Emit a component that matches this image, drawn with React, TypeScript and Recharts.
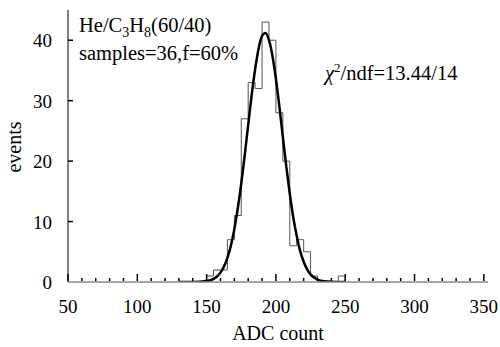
import React from 'react';
import { ComposedChart, Line, XAxis, YAxis } from 'recharts';

// Histogram (bin width 5 ADC counts)
const binStarts = [150, 155, 160, 165, 170, 175, 180, 185, 190, 195, 200, 205, 210, 215, 220, 225, 230, 235, 240, 245];
const binCounts = [1, 2, 2, 7, 11, 27, 33, 32, 43, 40, 28, 20, 6, 7, 5, 1, 0, 0, 0, 1];
const binWidth = 5;

// Gaussian fit curve
const fitX = [130, 135, 140, 145, 150, 155, 157.5, 160, 162.5, 165, 167.5, 170, 172.5, 175, 177.5, 180, 182.5, 185, 187.5, 190, 192.5, 195, 197.5, 200, 202.5, 205, 207.5, 210, 212.5, 215, 217.5, 220, 222.5, 225, 227.5, 230, 235, 240, 245, 250];
const fitY = [0, 0, 0.01, 0.04, 0.15, 0.52, 0.91, 1.55, 2.54, 4.0, 6.0, 8.75, 12.2, 16.3, 21.0, 26.0, 30.9, 35.2, 38.6, 40.7, 41.2, 40.0, 37.4, 33.6, 29.0, 24.0, 19.1, 14.6, 10.7, 7.6, 5.1, 3.35, 2.1, 1.26, 0.73, 0.41, 0.11, 0.03, 0.01, 0];

const xTicks = [50, 60, 70, 80, 90, 100, 110, 120, 130, 140, 150, 160, 170, 180, 190, 200, 210, 220, 230, 240, 250, 260, 270, 280, 290, 300, 310, 320, 330, 340, 350];
const xMajorStep = 50;
const yTicks = [0, 10, 20, 30, 40];
const xDomain: [number, number] = [50, 353];
const yDomain: [number, number] = [0, 45];

const FONT = "'Liberation Serif', 'Times New Roman', Times, serif";
const T: React.CSSProperties = { fontFamily: FONT };

const histData = [
  { x: binStarts[0], y: 0 },
  ...binStarts.map((s, i) => ({ x: s, y: binCounts[i] })),
  { x: binStarts[binStarts.length - 1] + binWidth, y: 0 },
];
const fitData = fitX.map((x, i) => ({ x, y: fitY[i] }));

const XTick = (props: any) => {
  const { x, y, payload } = props;
  const major = payload.value % xMajorStep === 0;
  return (
    <g>
      <line x1={x} x2={x} y1={y - 1} y2={y - (major ? 8 : 4)} stroke="#000" strokeWidth={1.5} />
      {major && (
        <text x={x} y={y + 31} textAnchor="middle" style={T} fontSize={19} fill="#000">
          {payload.value}
        </text>
      )}
    </g>
  );
};

const YTick = (props: any) => {
  const { x, y, payload } = props;
  return (
    <g>
      {payload.value !== 0 && <line x1={x} x2={x + 5} y1={y} y2={y} stroke="#000" strokeWidth={1.5} />}
      <text x={x - 16} y={y + 7} textAnchor="end" style={T} fontSize={19} fill="#000">
        {payload.value}
      </text>
    </g>
  );
};

export default function App() {
  return (
    <div style={{ position: 'absolute', left: 0, top: 0, width: 500, height: 347, background: '#fff', fontFamily: FONT }}>
      <ComposedChart width={500} height={347} margin={{ top: 10, right: 12, bottom: 0, left: 0 }}>
        <XAxis
          dataKey="x"
          type="number"
          domain={xDomain}
          ticks={xTicks}
          interval={0}
          height={65}
          tickSize={0}
          tickMargin={0}
          tickLine={false}
          tick={<XTick />}
          axisLine={{ stroke: '#888', strokeWidth: 1.5 }}
          allowDataOverflow
        />
        <XAxis
          xAxisId="top"
          orientation="top"
          type="number"
          domain={xDomain}
          height={0}
          tick={false}
          tickLine={false}
          axisLine={{ stroke: '#888', strokeWidth: 2 }}
        />
        <YAxis
          type="number"
          domain={yDomain}
          ticks={yTicks}
          interval={0}
          width={68}
          tickSize={0}
          tickMargin={0}
          tickLine={false}
          tick={<YTick />}
          axisLine={{ stroke: '#000', strokeWidth: 1 }}
          allowDataOverflow
        />
        <YAxis
          yAxisId="right"
          orientation="right"
          type="number"
          domain={yDomain}
          width={0}
          tick={false}
          tickLine={false}
          axisLine={{ stroke: '#777', strokeWidth: 2 }}
        />
        <Line
          data={histData}
          dataKey="y"
          type="stepAfter"
          stroke="#555"
          strokeWidth={1}
          dot={false}
          isAnimationActive={false}
        />
        <Line
          data={fitData}
          dataKey="y"
          type="monotone"
          stroke="#000"
          strokeWidth={2.5}
          dot={false}
          isAnimationActive={false}
        />
      </ComposedChart>
      <svg
        width={500}
        height={347}
        style={{ position: 'absolute', left: 0, top: 0, pointerEvents: 'none', fontFamily: FONT }}
      >
        <text x={79} y={32} fontSize={20.5} fill="#000" style={T}>
          He/C<tspan dy={5} fontSize={14}>3</tspan>
          <tspan dy={-5}>H</tspan>
          <tspan dy={5} fontSize={14}>8</tspan>
          <tspan dy={-5}>(60/40)</tspan>
        </text>
        <text x={79} y={60} fontSize={20.5} fill="#000" style={T}>samples=36,f=60%</text>
        <text x={325} y={80} fontSize={20.5} fill="#000" style={T}>
          <tspan fontStyle="italic">χ</tspan>
          <tspan dy={-8} fontSize={13}>2</tspan>
          <tspan dy={8}>/ndf=13.44/14</tspan>
        </text>
        <text x={278} y={340} fontSize={20} textAnchor="middle" fill="#000" style={T}>ADC count</text>
        <text x={0} y={0} fontSize={20} textAnchor="middle" fill="#000" style={T} transform="translate(21,147) rotate(-90)">events</text>
      </svg>
    </div>
  );
}
